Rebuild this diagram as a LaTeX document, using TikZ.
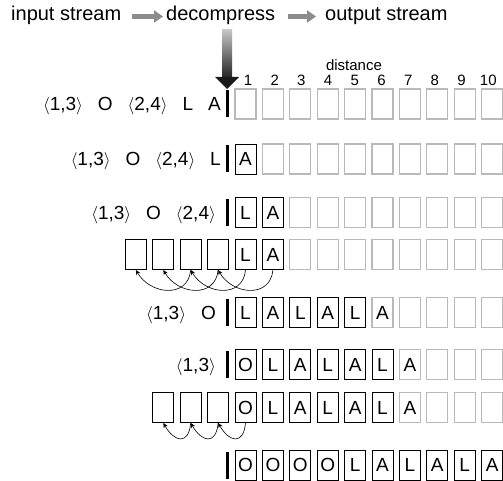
\documentclass[tikz,border=0pt]{standalone}
\usepackage{fontspec}
\setmainfont{Liberation Sans}
\usetikzlibrary{arrows.meta}
\newcommand\bigf{\fontsize{19}{19}\selectfont}
\newcommand\titlef{\fontsize{20}{20}\selectfont}
\newcommand\smallf{\fontsize{15}{15}\selectfont}
\newcommand\pairtok[2]{\ensuremath{\langle}#1,#2\ensuremath{\rangle}}
\newcommand\gp{\hspace{15pt}}
\newcommand\boxrow[3]{%
  \foreach \c/\t/\s in {#3} {\node[\s] (#1c\c) at ({245.5+27.4*(\c-1)},#2) {\t};}}
\newcommand\leftrow[3]{%
  \foreach \c in {#3} {\node[kbox] (#1l\c) at ({218.1-27.4*\c},#2) {};}}
\begin{document}
\begin{tikzpicture}[x=1pt,y=-1pt,
  every node/.style={inner sep=0pt},
  bx/.style={minimum width=21pt, minimum height=30pt, text height=13.6pt, text depth=0pt, font=\bigf},
  gbox/.style={bx, draw=gray!55, line width=1.3pt},
  kbox/.style={bx, draw=black, line width=0.9pt},
  tok/.style={anchor=east, text height=13.6pt, text depth=0pt, font=\bigf},
  inbar/.style={line width=2.6pt},
  copyarc/.style={-{Stealth[length=5pt,width=4.5pt]}, line width=0.6pt},
  harrow/.style={draw=gray!90, line width=4.5pt, -{Triangle[length=9pt,width=12pt]}},
  title/.style={anchor=base west, font=\titlef},
  num/.style={font=\smallf}]
\useasboundingbox (0,0) rectangle (503,481);

% title line
\node[title] (in) at (11,21) {input stream};
\node[title] (dec) at (166,21) {decompress};
\node[title] (out) at (325,21) {output stream};
\coordinate (ay) at (0,16.5);
\draw[harrow] ([xshift=11pt]in.east |- ay) -- ([xshift=-3pt]dec.west |- ay);
\draw[harrow] ([xshift=13pt]dec.east |- ay) -- ([xshift=-9pt]out.west |- ay);

% big vertical arrow
\shade[top color=gray!45, bottom color=black!85] (222,30) rectangle (232,77);
\fill[black!90] (215,77) -- (239,77) -- (227,89) -- cycle;

% distance labels
\node[num] (dist) at (354,65) {distance};
\foreach \i in {1,...,10} {\node[num] (n\i) at ({248+26.7*(\i-1)},80) {\i};}

% row 1
\node[tok] (t1) at (221,104) {\pairtok13\gp O\gp\pairtok24\gp L\gp A};
\draw[inbar] (227.5,90.5) -- (227.5,117.5);
\boxrow{r1}{104}{1/{}/gbox,2/{}/gbox,3/{}/gbox,4/{}/gbox,5/{}/gbox,6/{}/gbox,7/{}/gbox,8/{}/gbox,9/{}/gbox,10/{}/gbox}

% row 2
\node[tok] (t2) at (221,159) {\pairtok13\gp O\gp\pairtok24\gp L};
\draw[inbar] (227.5,145.5) -- (227.5,172.5);
\boxrow{r2}{159}{1/A/kbox,2/{}/gbox,3/{}/gbox,4/{}/gbox,5/{}/gbox,6/{}/gbox,7/{}/gbox,8/{}/gbox,9/{}/gbox,10/{}/gbox}

% row 3
\node[tok] (t3) at (216,212.5) {\pairtok13\gp O\gp\pairtok24};
\draw[inbar] (227.5,199) -- (227.5,226);
\boxrow{r3}{212.5}{1/L/kbox,2/A/kbox,3/{}/gbox,4/{}/gbox,5/{}/gbox,6/{}/gbox,7/{}/gbox,8/{}/gbox,9/{}/gbox,10/{}/gbox}

% row 4
\leftrow{r4}{254.5}{0,1,2,3}
\boxrow{r4}{254.5}{1/L/kbox,2/A/kbox,3/{}/gbox,4/{}/gbox,5/{}/gbox,6/{}/gbox,7/{}/gbox,8/{}/gbox,9/{}/gbox,10/{}/gbox}
\draw[copyarc] (r4c1.south) to[out=-95,in=-60,looseness=1.35] (r4l1.south);
\draw[copyarc] (r4c2.south) to[out=-95,in=-60,looseness=1.35] (r4l0.south);
\draw[copyarc] (r4l0.south) to[out=-95,in=-60,looseness=1.35] (r4l2.south);
\draw[copyarc] (r4l1.south) to[out=-95,in=-60,looseness=1.35] (r4l3.south);

% row 5
\node[tok] (t5) at (216,312.5) {\pairtok13\gp O};
\draw[inbar] (227.5,299) -- (227.5,326);
\boxrow{r5}{312.5}{1/L/kbox,2/A/kbox,3/L/kbox,4/A/kbox,5/L/kbox,6/A/gbox,7/{}/gbox,8/{}/gbox,9/{}/gbox,10/{}/gbox}

% row 6
\node[tok] (t6) at (216,364.5) {\pairtok13};
\draw[inbar] (227.5,351) -- (227.5,378);
\boxrow{r6}{364.5}{1/O/kbox,2/L/kbox,3/A/kbox,4/L/kbox,5/A/kbox,6/L/kbox,7/A/gbox,8/{}/gbox,9/{}/gbox,10/{}/gbox}

% row 7
\leftrow{r7}{407.5}{0,1,2}
\boxrow{r7}{407.5}{1/O/kbox,2/L/kbox,3/A/kbox,4/L/kbox,5/A/kbox,6/L/kbox,7/A/gbox,8/{}/gbox,9/{}/gbox,10/{}/gbox}
\draw[copyarc] (r7c1.south) to[out=-95,in=-60,looseness=2.1] (r7l0.south);
\draw[copyarc] (r7l0.south) to[out=-95,in=-60,looseness=2.1] (r7l1.south);
\draw[copyarc] (r7l1.south) to[out=-95,in=-60,looseness=2.1] (r7l2.south);

% row 8
\draw[inbar] (227.5,452) -- (227.5,479);
\boxrow{r8}{465}{1/O/kbox,2/O/kbox,3/O/kbox,4/O/kbox,5/L/kbox,6/A/kbox,7/L/kbox,8/A/kbox,9/L/kbox,10/A/kbox}
\end{tikzpicture}
\end{document}
